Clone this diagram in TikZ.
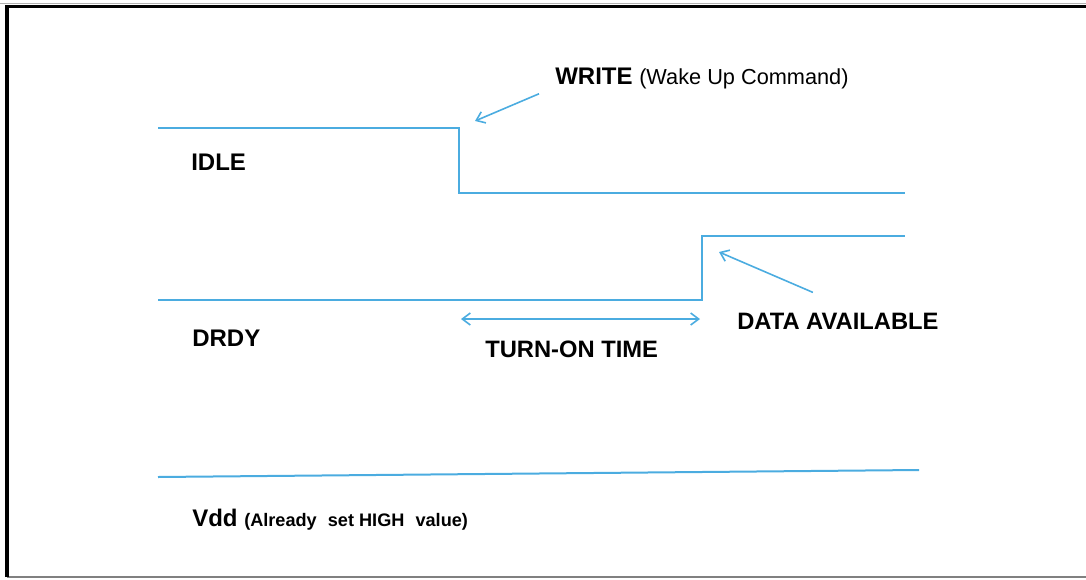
\documentclass[tikz,border=0pt]{standalone}
\usepackage{fontspec}
\setmainfont{Liberation Sans}
\usetikzlibrary{
	arrows.meta,        %箭头
	positioning         %定位
}
\definecolor{wave}{RGB}{75,172,224}
\tikzset{
	every picture/.style={
		>={Straight Barb[length=6pt,width=9pt]},
		x=0.75pt, y=-0.75pt
}}

\begin{document}
\begin{tikzpicture}
\tikzstyle{signal}=[draw=wave, line width=1.5pt, line join=miter]
\tikzstyle{pointer}=[->, draw=wave, line width=1.2pt]
\tikzstyle{sigtext}=[inner sep=0pt, anchor=base west, font=\bfseries\fontsize{18}{20}\selectfont]
\tikzstyle{notetext}=[inner sep=0pt, anchor=base west, font=\bfseries\fontsize{17.8}{19}\selectfont]
\useasboundingbox (0,0) rectangle (1086,579);
% frame
\draw[gray!60, line width=0.8pt] (0,3.5) -- (1086,3.5);
\draw[gray, line width=0.8pt] (7,577) -- (1086,577);
\draw[black, line width=2.4pt] (7,577) -- (7,6.5) -- (1086,6.5);
% signals
\draw[signal] (158,128) -- (459,128) -- (459,193) -- (905,193);
\draw[signal] (158,300) -- (702,300) -- (702,236) -- (905,236);
\draw[signal] (158,477) -- (919,470);
% labels
\node[sigtext] (idle) at (191,170) {IDLE};
\node[sigtext] (drdy) at (192,346) {DRDY};
\node[sigtext] (vdd) at (192,526) {Vdd {\fontsize{13.6}{15}\selectfont(Already\,\, set HIGH\,\, value)}};
\node[sigtext] (write) at (555,84) {WRITE {\mdseries\fontsize{16.3}{18}\selectfont(Wake Up Command)}};
\node[notetext] (data) at (737,329) {DATA AVAILABLE};
\node[notetext] (turnon) at (485,357) {TURN-ON TIME};
% pointers
\coordinate (edge) at (475,121);
\coordinate (rise) at (719,252);
\coordinate (start) at (461,319);
\coordinate (ready) at (700,319);
\draw[pointer] ([shift={(-16,5)}]write.south west) -- (edge);
\draw[pointer] ([shift={(-25,-20)}]data.north) -- (rise);
\draw[pointer, <->] (start) -- (ready);
\end{tikzpicture}
\end{document}
